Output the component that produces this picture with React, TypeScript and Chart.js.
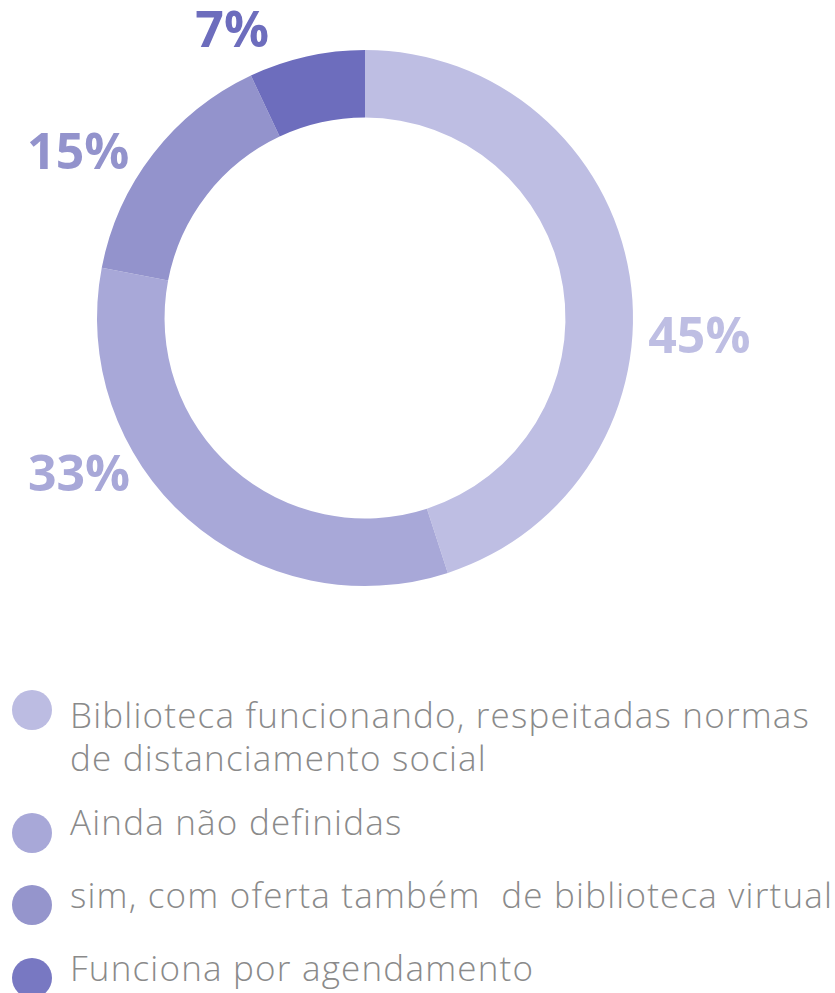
import React, { useEffect, useRef } from "react";
import { Chart, registerables } from "chart.js";

Chart.register(...registerables);

const categories = [
  "Biblioteca funcionando, respeitadas normas de distanciamento social",
  "Ainda não definidas",
  "sim, com oferta também  de biblioteca virtual",
  "Funciona por agendamento",
];
const values = [45, 33, 15, 7];
const percentLabels = ["45%", "33%", "15%", "7%"];
const sliceColors = ["#bebee3", "#a8a8d8", "#9393cc", "#6d6dbd"];
const legendColors = ["#bcbce2", "#a8a8d8", "#9595cc", "#7878c2"];
// label placement: fraction along the slice's arc, and distance as a multiple of the outer radius
const labelAnchor = [0.577, 0.665, 0.35, 0.01];
const labelRadius = [1.25, 1.22, 1.232, 1.175];

const legendTextTops = [693, 800, 873, 946];
const legendCircleCenters = [710, 833, 905, 978];

const labelPlugin = {
  id: "pctLabels",
  afterDatasetsDraw(chart: any) {
    const meta = chart.getDatasetMeta(0);
    const ctx = chart.ctx;
    ctx.save();
    ctx.font = "bold 50px 'Open Sans', sans-serif";
    ctx.textAlign = "center";
    ctx.textBaseline = "middle";
    meta.data.forEach((arc: any, i: number) => {
      const p = arc.getProps(["x", "y", "startAngle", "endAngle", "outerRadius"], true);
      const a = p.startAngle + labelAnchor[i] * (p.endAngle - p.startAngle);
      const r = p.outerRadius * labelRadius[i];
      ctx.fillStyle = sliceColors[i];
      ctx.fillText(percentLabels[i], p.x + r * Math.cos(a), p.y + r * Math.sin(a));
    });
    ctx.restore();
  },
};

export default function App() {
  const ref = useRef<HTMLCanvasElement | null>(null);
  useEffect(() => {
    if (!ref.current) return;
    const chart = new Chart(ref.current, {
      type: "doughnut",
      data: {
        labels: categories,
        datasets: [
          {
            data: values,
            backgroundColor: sliceColors,
            borderWidth: 0,
          },
        ],
      },
      options: {
        responsive: false,
        animation: false,
        cutout: "74.8%",
        layout: { padding: { left: 97, right: 202, top: 50, bottom: 54 } },
        plugins: { legend: { display: false }, tooltip: { enabled: false } },
      },
      plugins: [labelPlugin],
    });
    return () => chart.destroy();
  }, []);

  return (
    <div style={{ position: "absolute", left: 0, top: 0, width: 835, height: 993, background: "#fff", overflow: "hidden" }}>
      <canvas ref={ref} width={835} height={640} style={{ position: "absolute", left: 0, top: 0, width: 835, height: 640 }} />
      {categories.map((c, i) => (
        <React.Fragment key={i}>
          <div
            style={{
              position: "absolute",
              left: 12,
              top: legendCircleCenters[i] - 20,
              width: 40,
              height: 40,
              borderRadius: "50%",
              background: legendColors[i],
            }}
          />
          <div
            style={{
              position: "absolute",
              left: 70,
              top: legendTextTops[i],
              width: 765,
              fontFamily: "'Open Sans', sans-serif",
              fontWeight: 300,
              fontSize: 35,
              letterSpacing: "1.2px",
              lineHeight: "43px",
              color: "#8a8a8a",
              whiteSpace: "pre-wrap",
            }}
          >
            {c}
          </div>
        </React.Fragment>
      ))}
    </div>
  );
}
